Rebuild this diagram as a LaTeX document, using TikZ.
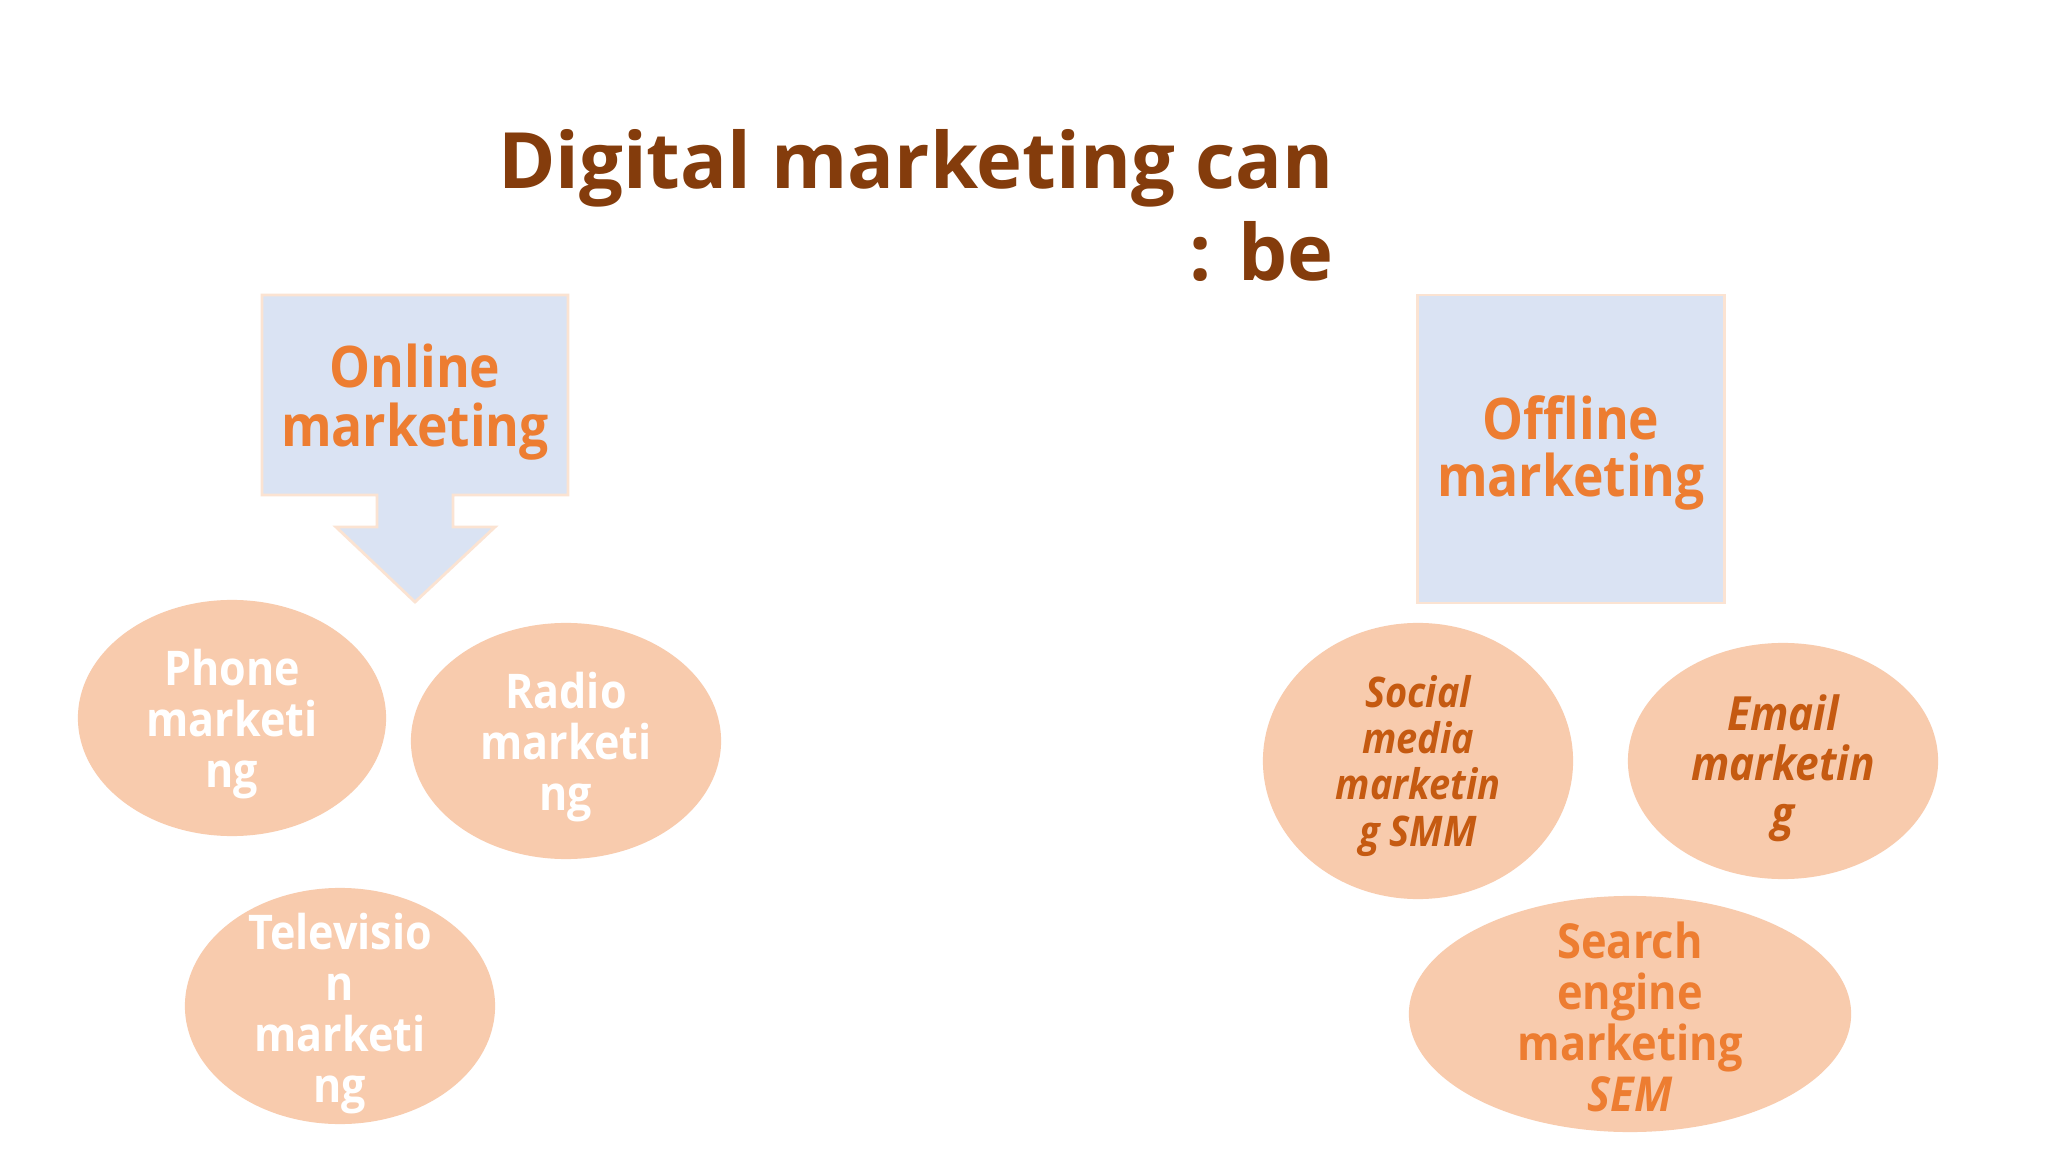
\documentclass[tikz,border=0pt]{standalone}
\usepackage{fontspec}
\setmainfont{Open Sans}
\newfontfamily\condfont{Open Sans}[FakeStretch=0.9]
\usetikzlibrary{shapes.geometric}
\definecolor{boxblue}{HTML}{DAE3F3}
\definecolor{peach}{HTML}{F8CBAD}
\definecolor{peachline}{HTML}{FBE3D2}
\definecolor{orng}{HTML}{ED7D31}
\definecolor{dorng}{HTML}{C55A11}
\definecolor{titlebrown}{HTML}{843C0C}
\begin{document}
\begin{tikzpicture}[x=0.01cm,y=-0.01cm,
  bubble/.style={ellipse, fill=peach, inner sep=0pt},
  wtext/.style={text=white, align=center, inner sep=0pt, font=\condfont\bfseries\fontsize{13.6}{14.5}\selectfont},
  itext/.style={text=dorng, align=center, inner sep=0pt, font=\condfont\bfseries\itshape\fontsize{12}{13.1}\selectfont},
  headtext/.style={text=orng, align=center, inner sep=0pt}]
\fill[white] (0,0) rectangle (2048,1152);
\useasboundingbox (0,0) rectangle (2048,1152);

% title
\node[text=titlebrown, align=right, anchor=north east, inner sep=0pt,
  font=\bfseries\fontsize{22.1}{26.2}\selectfont] (title) at (1334,129)
  {Digital marketing can\\: be};

% online callout
\path[fill=boxblue, draw=peachline, line width=0.8pt]
  (262,295) -- (568,295) -- (568,495) -- (453,495) -- (453,527) -- (495,527)
  -- (415,602) -- (336,527) -- (377,527) -- (377,495) -- (262,495) -- cycle;
\node[headtext, font=\condfont\bfseries\fontsize{16.3}{16.8}\selectfont] (online) at (415,402)
  {Online\\marketing};

% offline box
\node[draw=peachline, fill=boxblue, line width=0.8pt, minimum width=3.07cm,
  minimum height=3.08cm, inner sep=0pt] (offbox) at (1571,449) {};
\node[headtext, font=\condfont\bfseries\fontsize{16.3}{16}\selectfont] (offline) at (1571,453)
  {Offline\\marketing};

% online bubbles
\node[bubble, minimum width=3.08cm, minimum height=2.36cm] (phone) at (232,718) {};
\node[wtext] (phonet) at (232,724) {Phone\\marketi\\ng};
\node[bubble, minimum width=3.10cm, minimum height=2.36cm] (radio) at (566,741) {};
\node[wtext] (radiot) at (566,747) {Radio\\marketi\\ng};
\node[bubble, minimum width=3.10cm, minimum height=2.36cm] (tv) at (340,1006) {};
\node[wtext] (tvt) at (340,1014) {Televisio\\n\\marketi\\ng};

% offline bubbles
\node[bubble, minimum width=3.10cm, minimum height=2.76cm] (social) at (1418,761) {};
\node[itext] (socialt) at (1418,766) {Social\\media\\marketin\\g SMM};
\node[bubble, minimum width=3.10cm, minimum height=2.36cm] (email) at (1783,761) {};
\node[itext, font=\condfont\bfseries\itshape\fontsize{13.4}{14.2}\selectfont] (emailt) at (1783,768) {Email\\marketin\\g};
\node[bubble, minimum width=4.42cm, minimum height=2.36cm] (sem) at (1630,1014) {};
\node[headtext, font=\condfont\bfseries\fontsize{13.7}{14.5}\selectfont] (semt) at (1630,1017)
  {Search\\engine\\marketing\\\itshape SEM};
\end{tikzpicture}
\end{document}
